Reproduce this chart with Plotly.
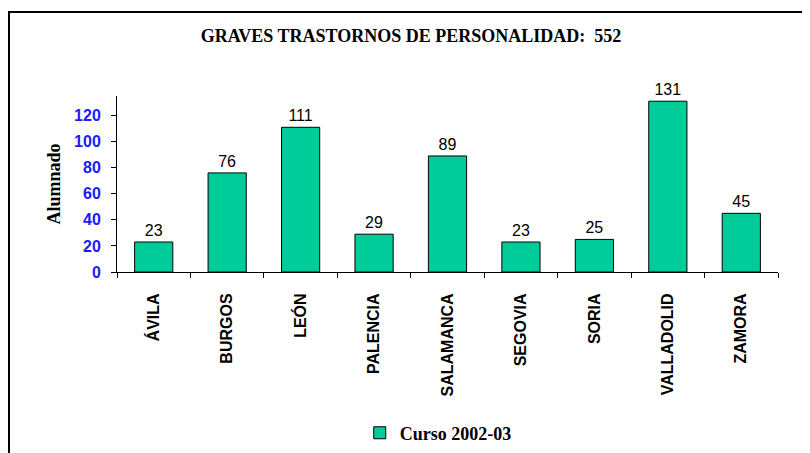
import plotly.graph_objects as go

provincias = ['ÁVILA', 'BURGOS', 'LEÓN', 'PALENCIA', 'SALAMANCA',
              'SEGOVIA', 'SORIA', 'VALLADOLID', 'ZAMORA']
alumnado = [23, 76, 111, 29, 89, 23, 25, 131, 45]
serie = 'Curso 2002-03'
y_ticks = [0, 20, 40, 60, 80, 100, 120]

fig = go.Figure()
fig.add_trace(go.Bar(
    x=provincias,
    y=alumnado,
    name=f'<b>{serie}</b>',
    text=alumnado,
    textposition='outside',
    textfont=dict(family='Liberation Sans, Arial', size=16, color='black'),
    cliponaxis=False,
    marker=dict(color='#00CC99', line=dict(color='black', width=1)),
    showlegend=True,
))

# the page body adds 8px, so the margins are shifted accordingly
fig.update_layout(
    width=810, height=453,
    paper_bgcolor='white', plot_bgcolor='white',
    margin=dict(l=109, r=40, t=88, b=189, autoexpand=False),
    bargap=0.48,
    title=dict(
        text='<b>GRAVES TRASTORNOS DE PERSONALIDAD:  552</b>',
        font=dict(family='Liberation Serif, Times New Roman', size=18, color='black'),
        x=0.4975, xanchor='center', y=0.938, yanchor='middle',
    ),
    legend=dict(
        orientation='h', x=0.486, xanchor='center', y=-0.81, yanchor='top',
        font=dict(family='Liberation Serif, Times New Roman', size=18, color='black'),
        itemwidth=30,
    ),
    shapes=[dict(
        type='rect', xref='paper', yref='paper',
        x0=-108 / 661, x1=1.2, y0=-1.5, y1=260 / 176,
        line=dict(color='black', width=2), fillcolor='rgba(0,0,0,0)', layer='below',
    )],
)

fig.update_xaxes(
    automargin=False,
    showline=True, linecolor='black', linewidth=1,
    ticks='outside', ticklen=5, tickcolor='black', tickson='boundaries',
    tickangle=-90,
    tickvals=provincias, ticktext=[f'<b>{p}</b>' for p in provincias],
    tickfont=dict(family='Liberation Sans, Arial', size=16, color='black'),
    ticklabelstandoff=14,
)

fig.update_yaxes(
    automargin=False,
    range=[0, 135], tickvals=y_ticks,
    ticktext=[f'<b>{v}</b>' for v in y_ticks],
    showline=True, linecolor='black', linewidth=1,
    ticks='outside', ticklen=5, tickcolor='black',
    showgrid=False, zeroline=False,
    tickfont=dict(family='Liberation Sans, Arial', size=16, color='#1a1aff'),
    ticklabelstandoff=7,
    title=dict(text='<b>Alumnado</b>', standoff=8,
               font=dict(family='Liberation Serif, Times New Roman', size=18, color='black')),
)

fig.write_html('out.html')
